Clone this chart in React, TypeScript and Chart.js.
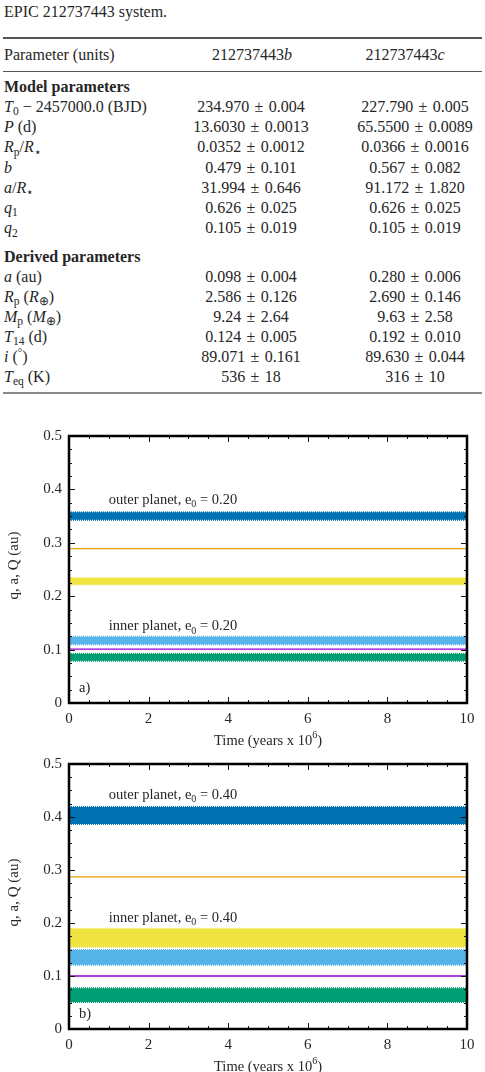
import React, { useEffect, useRef } from "react";
import { Chart, registerables } from "chart.js";

Chart.register(...registerables);

const SERIF = '"Liberation Serif", "Times New Roman", serif';
const INK = "#262626";

// ---- table contents ----
const captionLine = "EPIC 212737443 system.";
const headParam = "Parameter (units)";
const planetId = "212737443";
const modelValuesB = ["234.970 ± 0.004", "13.6030 ± 0.0013", "0.0352 ± 0.0012", "0.479 ± 0.101", "31.994 ± 0.646", "0.626 ± 0.025", "0.105 ± 0.019"];
const modelValuesC = ["227.790 ± 0.005", "65.5500 ± 0.0089", "0.0366 ± 0.0016", "0.567 ± 0.082", "91.172 ± 1.820", "0.626 ± 0.025", "0.105 ± 0.019"];
const derivedValuesB = ["0.098 ± 0.004", "2.586 ± 0.126", "9.24 ± 2.64", "0.124 ± 0.005", "89.071 ± 0.161", "536 ± 18"];
const derivedValuesC = ["0.280 ± 0.006", "2.690 ± 0.146", "9.63 ± 2.58", "0.192 ± 0.010", "89.630 ± 0.044", "316 ± 10"];

// ---- orbital evolution, panel a (e0 = 0.20) ----
const timeRange = [0, 10]; // 10^6 yr
const bandNames = ["inner q", "inner Q", "outer q", "outer Q"];
const bandLowA = [0.079, 0.110, 0.222, 0.343];
const bandHighA = [0.092, 0.124, 0.234, 0.357];
const semiMajorA = [0.101, 0.289]; // inner a, outer a
// ---- panel b (e0 = 0.40) ----
const bandLowB = [0.051, 0.121, 0.155, 0.387];
const bandHighB = [0.077, 0.149, 0.189, 0.419];
const semiMajorB = [0.100, 0.287];
const xTickValues = [0, 2, 4, 6, 8, 10];
const yTickValues = [0, 0.1, 0.2, 0.3, 0.4, 0.5];

const bandColors = ["#009E73", "#56B4E9", "#F0E442", "#0072B2"];
const lineColors = ["#9400D3", "#E69F00"];

const sub = (t: string) => (
  <span style={{ fontSize: "0.72em", position: "relative", top: "0.3em", lineHeight: 0 }}>{t}</span>
);

const modelLabels = [
  <><i>T</i>{sub("0")} − 2457000.0 (BJD)</>,
  <><i>P</i> (d)</>,
  <><i>R</i>{sub("p")}/<i>R</i>{sub("⋆")}</>,
  <i>b</i>,
  <><i>a</i>/<i>R</i>{sub("⋆")}</>,
  <><i>q</i>{sub("1")}</>,
  <><i>q</i>{sub("2")}</>,
];
const derivedLabels = [
  <><i>a</i> (au)</>,
  <><i>R</i>{sub("p")} (<i>R</i>{sub("⊕")})</>,
  <><i>M</i>{sub("p")} (<i>M</i>{sub("⊕")})</>,
  <><i>T</i>{sub("14")} (d)</>,
  <><i>i</i> (<span style={{ fontSize: "0.7em", position: "relative", top: "-0.5em" }}>°</span>)</>,
  <><i>T</i>{sub("eq")} (K)</>,
];

const pm = (s: string) => s.replace(" ± ", "\u2004±\u2004");

type Part = { t: string; sub?: boolean; sup?: boolean };

function drawRich(ctx: CanvasRenderingContext2D, parts: Part[], x: number, y: number, size: number, align: "left" | "center") {
  const big = `${size}px ${SERIF}`;
  const small = `${Math.round(size * 0.72)}px ${SERIF}`;
  let total = 0;
  for (const p of parts) {
    ctx.font = p.sub || p.sup ? small : big;
    total += ctx.measureText(p.t).width;
  }
  let cx = align === "center" ? x - total / 2 : x;
  ctx.textAlign = "left";
  ctx.textBaseline = "middle";
  for (const p of parts) {
    ctx.font = p.sub || p.sup ? small : big;
    const dy = p.sub ? size * 0.3 : p.sup ? -size * 0.38 : 0;
    ctx.fillText(p.t, cx, y + dy);
    cx += ctx.measureText(p.t).width;
  }
}

type PanelProps = {
  top: number;
  height: number;
  padTop: number;
  axisH: number;
  lows: number[];
  highs: number[];
  means: number[];
  tag: string;
  ecc: string;
  outerY: number;
  innerY: number;
};

function Panel(props: PanelProps) {
  const ref = useRef<HTMLCanvasElement | null>(null);
  useEffect(() => {
    const canvas = ref.current;
    if (!canvas) return;
    const { lows, highs, means, tag, ecc, outerY, innerY, padTop, axisH } = props;
    const flat = (v: number) => timeRange.map((t) => ({ x: t, y: v }));
    const datasets: any[] = [];
    // mean semi-major axes as thin lines
    means.forEach((v, i) => {
      datasets.push({
        label: i === 0 ? "inner a" : "outer a",
        data: flat(v),
        borderColor: lineColors[i],
        borderWidth: 1.3,
        pointRadius: 0,
        fill: false,
      });
    });
    // peri/apocentre oscillation envelopes as filled bands
    lows.forEach((lo, i) => {
      datasets.push({
        label: bandNames[i] + " min",
        data: flat(lo),
        borderColor: bandColors[i],
        borderWidth: 2,
        borderDash: [1, 1],
        pointRadius: 0,
        fill: false,
      });
      datasets.push({
        label: bandNames[i] + " max",
        data: flat(highs[i]),
        borderColor: bandColors[i],
        borderWidth: 2,
        borderDash: [1, 1],
        backgroundColor: bandColors[i],
        pointRadius: 0,
        fill: "-1",
      });
    });

    const frame = {
      id: "frame",
      afterDraw(chart: any) {
        const { ctx, chartArea } = chart;
        const { left, right, top, bottom } = chartArea;
        const xs = chart.scales.x;
        const ys = chart.scales.y;
        ctx.save();
        ctx.strokeStyle = "#111";
        ctx.lineWidth = 1;
        ctx.beginPath();
        for (let i = 0; i <= 20; i++) {
          const px = Math.round(xs.getPixelForValue(i * 0.5)) + 0.5;
          const len = i % 4 === 0 ? 6 : 3;
          ctx.moveTo(px, bottom);
          ctx.lineTo(px, bottom - len);
          ctx.moveTo(px, top);
          ctx.lineTo(px, top + len);
        }
        for (let i = 0; i <= 20; i++) {
          const py = Math.round(ys.getPixelForValue(i * 0.025)) + 0.5;
          const len = i % 4 === 0 ? 6 : 3;
          ctx.moveTo(left, py);
          ctx.lineTo(left + len, py);
          ctx.moveTo(right, py);
          ctx.lineTo(right - len, py);
        }
        ctx.stroke();
        ctx.lineWidth = 2.5;
        ctx.strokeStyle = "#000";
        ctx.strokeRect(left, top, right - left, bottom - top);

        ctx.fillStyle = INK;
        const x0 = xs.getPixelForValue(1.0);
        drawRich(ctx, [{ t: "outer planet, e" }, { t: "0", sub: true }, { t: " = " + ecc }], x0, ys.getPixelForValue(outerY), 14.5, "left");
        drawRich(ctx, [{ t: "inner planet, e" }, { t: "0", sub: true }, { t: " = " + ecc }], x0, ys.getPixelForValue(innerY), 14.5, "left");
        drawRich(ctx, [{ t: tag }], xs.getPixelForValue(0.25), ys.getPixelForValue(0.028), 14.5, "left");
        drawRich(ctx, [{ t: "Time (years x 10" }, { t: "6", sup: true }, { t: ")" }], (left + right) / 2, bottom + 38, 14.5, "center");
        ctx.save();
        ctx.translate(14, (top + bottom) / 2 - 4);
        ctx.rotate(-Math.PI / 2);
        drawRich(ctx, [{ t: "q, a, Q (au)" }], 0, 0, 15, "center");
        ctx.restore();
        ctx.restore();
      },
    };

    const chart = new Chart(canvas, {
      type: "line",
      data: { datasets },
      options: {
        animation: false,
        responsive: false,
        devicePixelRatio: 1,
        layout: { padding: { top: padTop, right: 18, left: 0, bottom: 0 } },
        plugins: { legend: { display: false }, tooltip: { enabled: false }, title: { display: false } },
        scales: {
          x: {
            type: "linear",
            min: timeRange[0],
            max: timeRange[1],
            grid: { display: false, drawTicks: false },
            border: { display: false },
            afterBuildTicks: (s: any) => {
              s.ticks = xTickValues.map((v) => ({ value: v }));
            },
            ticks: { color: INK, font: { family: SERIF, size: 15 }, padding: 7, maxRotation: 0, autoSkip: false },
            afterFit: (s: any) => {
              s.height = axisH;
            },
          },
          y: {
            type: "linear",
            min: 0,
            max: 0.5,
            grid: { display: false, drawTicks: false },
            border: { display: false },
            afterBuildTicks: (s: any) => {
              s.ticks = yTickValues.map((v) => ({ value: v }));
            },
            ticks: {
              color: INK,
              font: { family: SERIF, size: 15 },
              padding: 7,
              callback: (v: any) => String(Math.round(Number(v) * 10) / 10),
            },
            afterFit: (s: any) => {
              s.width = 69;
            },
          },
        },
      },
      plugins: [frame],
    });
    return () => chart.destroy();
  }, []);
  return (
    <canvas
      ref={ref}
      width={485}
      height={props.height}
      style={{ position: "absolute", left: 0, top: props.top, width: 485, height: props.height }}
    />
  );
}

const cell = (content: any, center: number, y: number, key: string) => (
  <div
    key={key}
    style={{ position: "absolute", left: center - 110, width: 220, top: y - 10, height: 20, lineHeight: "20px", textAlign: "center", whiteSpace: "nowrap" }}
  >
    {content}
  </div>
);
const labelCell = (content: any, y: number, key: string, bold = false) => (
  <div
    key={key}
    style={{ position: "absolute", left: 4, top: y - 10, height: 20, lineHeight: "20px", whiteSpace: "nowrap", fontWeight: bold ? "bold" : "normal" }}
  >
    {content}
  </div>
);

export default function App() {
  const colB = 251;
  const colC = 415;
  const modelY = (i: number) => 107 + i * 20.2;
  const derivedY = (i: number) => 277 + i * 20;
  return (
    <div
      style={{
        position: "absolute",
        left: 0,
        top: 0,
        width: 485,
        height: 1072,
        overflow: "hidden",
        background: "#fff",
        fontFamily: SERIF,
        fontSize: 16,
        color: INK,
      }}
    >
      {labelCell(captionLine, 12, "cap")}
      <div style={{ position: "absolute", left: 3, width: 479, top: 37, height: 1.6, background: "#555" }} />
      {labelCell(headParam, 55, "hp")}
      {cell(<>{planetId}<i>b</i></>, 252, 55, "hb")}
      {cell(<>{planetId}<i>c</i></>, 405, 55, "hc")}
      <div style={{ position: "absolute", left: 3, width: 479, top: 70.5, height: 1.2, background: "#555" }} />
      {labelCell("Model parameters", 87, "mp", true)}
      {modelLabels.map((l, i) => labelCell(l, modelY(i), "ml" + i))}
      {modelValuesB.map((v, i) => cell(pm(v), colB, modelY(i), "mb" + i))}
      {modelValuesC.map((v, i) => cell(pm(v), colC, modelY(i), "mc" + i))}
      {labelCell("Derived parameters", 257, "dp", true)}
      {derivedLabels.map((l, i) => labelCell(l, derivedY(i), "dl" + i))}
      {derivedValuesB.map((v, i) => cell(pm(v), colB, derivedY(i), "db" + i))}
      {derivedValuesC.map((v, i) => cell(pm(v), colC, derivedY(i), "dc" + i))}
      <div style={{ position: "absolute", left: 3, width: 479, top: 392, height: 2.4, background: "#8a8a8a" }} />

      <Panel top={420} height={328} padTop={13} axisH={45} lows={bandLowA} highs={bandHighA} means={semiMajorA} tag="a)" ecc="0.20" outerY={0.38} innerY={0.143} />
      <Panel top={748} height={324} padTop={10} axisH={43} lows={bandLowB} highs={bandHighB} means={semiMajorB} tag="b)" ecc="0.40" outerY={0.441} innerY={0.21} />
    </div>
  );
}
